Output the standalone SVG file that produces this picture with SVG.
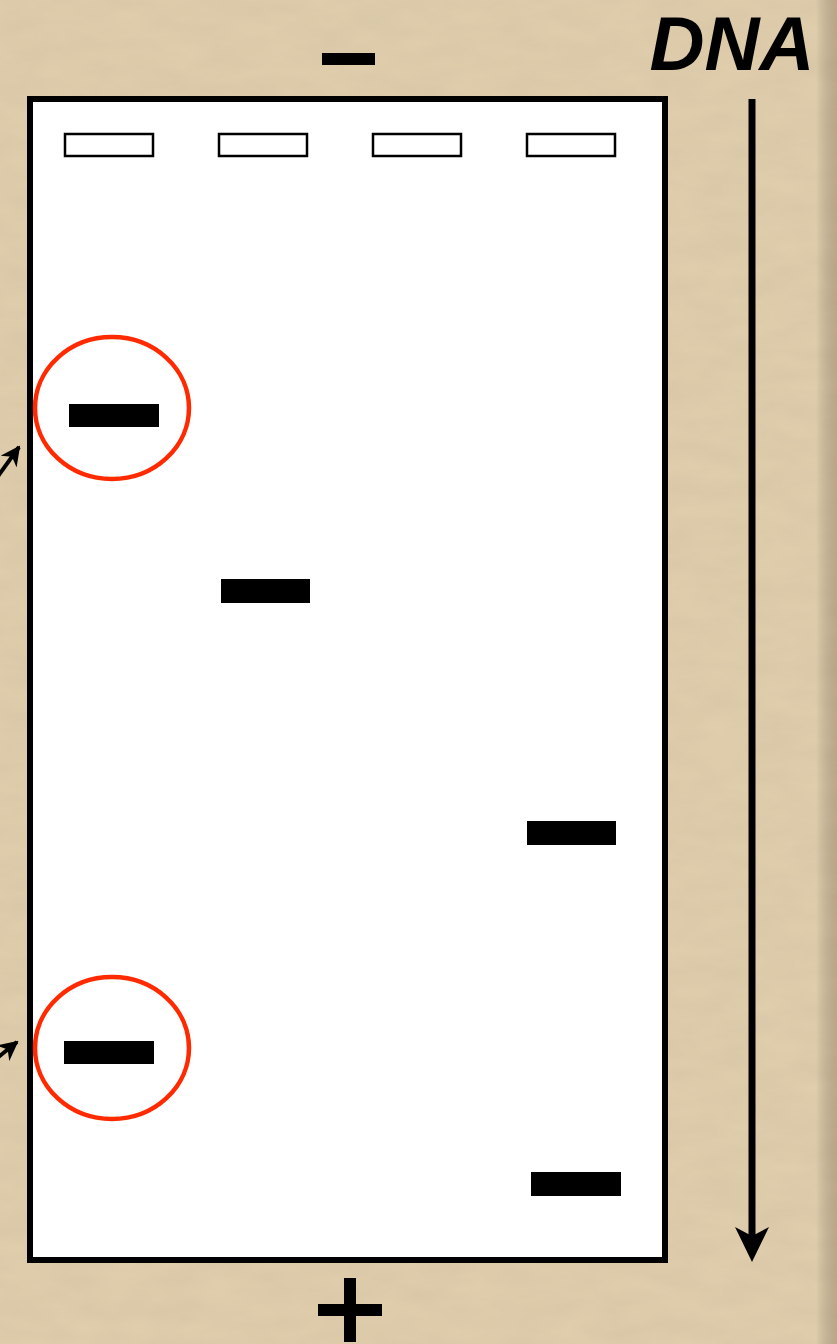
<svg xmlns="http://www.w3.org/2000/svg" width="837" height="1344" viewBox="0 0 837 1344">
<defs>
<filter id="tex" x="0" y="0" width="100%" height="100%">
<feTurbulence type="fractalNoise" baseFrequency="0.02 0.05" numOctaves="4" seed="3"/>
<feColorMatrix type="matrix" values="0 0 0 0 0.55  0 0 0 0 0.45  0 0 0 0 0.3  0 0 0 0.3 -0.05"/>
</filter>
<linearGradient id="edge" x1="0" y1="0" x2="1" y2="0">
<stop offset="0.975" stop-color="#000" stop-opacity="0"/>
<stop offset="1" stop-color="#6b5436" stop-opacity="0.3"/>
</linearGradient>
<marker id="head" viewBox="0 0 10 10" refX="9" refY="5" markerWidth="5" markerHeight="5" markerUnits="strokeWidth" orient="auto">
<path d="M0,0 L10,5 L0,10 L3,5 Z" fill="#000"/>
</marker>
<style>
.well{fill:#fff;stroke:#000;stroke-width:2.5}
.band{fill:#000}
.ring{fill:none;stroke:#ff2a00;stroke-width:4.5}
.conn{stroke:#000;stroke-width:7;fill:none}
.side{stroke:#000;stroke-width:4;fill:none}
</style>
</defs>
<rect width="837" height="1344" fill="#dfcdac"/>
<rect width="837" height="1344" filter="url(#tex)"/>
<rect width="837" height="1344" fill="url(#edge)"/>
<g id="gel">
<rect x="30" y="99" width="635" height="1161" fill="#fff" stroke="#000" stroke-width="6"/>
</g>
<g id="wells">
<rect class="well" x="65" y="134" width="88" height="22"/>
<rect class="well" x="219" y="134" width="88" height="22"/>
<rect class="well" x="373" y="134" width="88" height="22"/>
<rect class="well" x="527" y="134" width="88" height="22"/>
</g>
<g id="bands">
<rect class="band" x="69" y="404" width="90" height="23"/>
<rect class="band" x="221" y="579" width="89" height="24"/>
<rect class="band" x="527" y="821" width="89" height="24"/>
<rect class="band" x="64" y="1041" width="90" height="23"/>
<rect class="band" x="531" y="1172" width="90" height="24"/>
</g>
<g id="rings">
<ellipse class="ring" cx="112" cy="408" rx="77" ry="71"/>
<ellipse class="ring" cx="112" cy="1048" rx="77" ry="71"/>
</g>
<g id="electrodes">
<rect x="322" y="53" width="53" height="12" fill="#000"/>
<rect x="344" y="1278" width="12" height="64" fill="#000"/>
<rect x="318" y="1304" width="64" height="12" fill="#000"/>
</g>
<g id="label-dna">
<text x="732" y="70" text-anchor="middle" font-family="Liberation Sans, Arial, sans-serif" font-weight="bold" font-style="italic" font-size="76" textLength="165" lengthAdjust="spacingAndGlyphs">DNA</text>
</g>
<g id="connectors">
<line class="conn" x1="752" y1="99" x2="752" y2="1240"/>
<path d="M735,1227 L752,1262 L769,1227 L752,1236 Z" fill="#000"/>
<line class="side" x1="-12" y1="490" x2="19" y2="447" marker-end="url(#head)"/>
<line class="side" x1="-30" y1="1080" x2="17" y2="1042" marker-end="url(#head)"/>
</g>
</svg>
